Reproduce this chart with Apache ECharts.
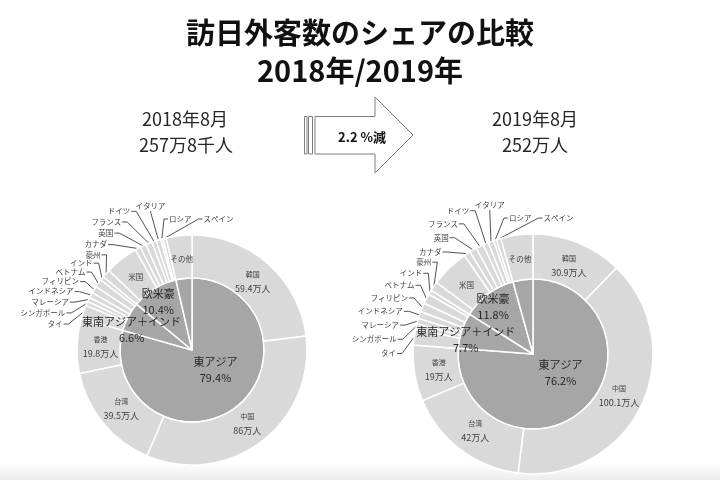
<!DOCTYPE html>
<html><head><meta charset="utf-8">
<script src="https://cdn.jsdelivr.net/npm/echarts@6/dist/echarts.min.js"></script>
<style>html,body{margin:0;padding:0;background:#fff}#c{width:720px;height:480px}</style>
</head><body><div id="c"></div>
<script>
const outerNames = ['韓国','中国','台湾','香港','タイ','シンガポール','マレーシア','インドネシア','フィリピン','ベトナム','インド','豪州','米国','カナダ','英国','フランス','ドイツ','イタリア','ロシア','スペイン','その他'];
const outer2018 = [59.4,86,39.5,19.8,5.0,1.5,1.6,2.0,2.5,2.9,1.5,3.0,12.0,2.0,2.2,2.3,1.6,1.7,0.8,1.2,9.3];
const outer2019 = [30.9,100.1,42,19,5.5,1.7,1.9,2.4,3.0,3.4,1.5,3.2,13.0,2.2,2.5,2.6,1.8,1.9,1.0,1.5,10.9];
const innerNames = ['東アジア','東南アジア＋インド','欧米豪','その他'];
const inner2018 = [79.4,6.6,10.4,3.6];
const inner2019 = [76.2,7.7,11.8,4.3];
const titleLines = ['訪日外客数のシェアの比較','2018年/2019年'];
const leftHead = ['2018年8月','257万8千人'];
const rightHead = ['2019年8月','252万人'];
const changeText = '2.2 %減';

const FONT = '"Noto Sans CJK JP", "Noto Sans", sans-serif';
const OUTER_C = '#d9d9d9', INNER_C = '#a6a6a6', TXT = '#404040';
const nameOnlyInside = ['米国','その他'];
const SMALL_FS = 7.5;

function kind(i){
  if(i<4) return 'value';
  if(nameOnlyInside.includes(outerNames[i])) return 'name';
  return 'out';
}
function outerData(vals){
  return vals.map((v,i)=>{
    const k = kind(i);
    const d = {name:outerNames[i], value:v};
    if(k==='value'){
      d.label = {position:'inside', formatter:'{n|{b}}\n{v|{c}万人}'};
      d.labelLine = {show:false};
    } else if(k==='name'){
      d.label = {position:'inside', formatter:'{m|{b}}'};
      d.labelLine = {show:false};
    } else {
      d.label = {position:'outside', formatter:'{o|{b}}'};
      d.labelLine = {show:true};
    }
    return d;
  });
}
function innerData(vals){
  return vals.map((v,i)=>({name:innerNames[i], value:v,
    label:{show:i<3, position:'inside', formatter:'{b}\n'+v.toFixed(1)+'%'}}));
}
// spread the small outside labels around the upper-left of the ring
function outerLayout(cx, cy, R, vals){
  const total = vals.reduce((a,b)=>a+b,0);
  const mids = []; let acc = 0;
  vals.forEach(v=>{ mids.push((acc+v/2)/total*360); acc+=v; });
  const outIdx = vals.map((v,i)=>i).filter(i=>kind(i)==='out');
  const n = outIdx.length, nTop = 3, nSide = n - nTop;
  const thA = mids[outIdx[0]] - 8, thEnd = 336, step = (thEnd - thA)/(nSide-1);
  const rad = d => d*Math.PI/180;
  return function(p){
    const k = outIdx.indexOf(p.dataIndex);
    if(k<0){
      // inside labels of the ring: pull slightly toward the centre
      const r = p.labelRect;
      const mx = r.x + r.width/2, my = r.y + r.height/2;
      return {dx:-0.05*(mx-cx), dy:-0.05*(my-cy)};
    }
    const tm = rad(mids[p.dataIndex]);
    const p0 = [cx + R*Math.sin(tm), cy - R*Math.cos(tm)];
    if(k<nSide){
      const th = thA + k*step;
      const r = R + 17 + 1.1*Math.max(0, th-318);
      const X = cx + r*Math.sin(rad(th)), Y = cy - r*Math.cos(rad(th));
      return {x:X, y:Y, align:'right', verticalAlign:'middle',
        labelLinePoints:[p0,[X+6,Y],[X+1,Y]]};
    }
    const j = k - nSide;
    if(j===0){
      const X = cx - 0.36*R, Y = cy - R - 29;
      return {x:X, y:Y, align:'center', verticalAlign:'middle',
        labelLinePoints:[p0,[X,Y+6],[X,Y+5]]};
    }
    let X = cx - 0.2*R;
    for(let q=nSide+1;q<k;q++) X += outerNames[outIdx[q]].length*SMALL_FS + 12;
    const Y = cy - R - 16;
    return {x:X, y:Y, align:'left', verticalAlign:'middle',
      labelLinePoints:[p0,[X-5,Y],[X-1,Y]]};
  };
}
function innerLayout(cx, cy){
  return function(p){
    const r = p.labelRect;
    const mx = r.x + r.width/2, my = r.y + r.height/2;
    let fx = 1.65, fy = 1.45;
    if(p.dataIndex===0){ fx = 1.0; fy = 0.65; }
    if(p.dataIndex===1){ fx = 1.75; fy = 1.1; }
    return {dx:(fx-1)*(mx-cx), dy:(fy-1)*(my-cy)};
  };
}
function pies(center, rIn, rOut, outerVals, innerVals){
  return [{
    type:'pie', center:center, radius:[0,rIn], startAngle:90, clockwise:true,
    avoidLabelOverlap:false,
    itemStyle:{color:INNER_C, borderColor:'#fff', borderWidth:1.5},
    label:{color:'#262626', fontSize:11, lineHeight:16, fontFamily:FONT, overflow:'none'},
    labelLine:{show:false}, silent:true, animation:false,
    labelLayout: innerLayout(center[0], center[1]),
    data: innerData(innerVals)
  },{
    type:'pie', center:center, radius:[rIn,rOut], startAngle:90, clockwise:true,
    itemStyle:{color:OUTER_C, borderColor:'#fff', borderWidth:1.5},
    avoidLabelOverlap:false,
    label:{color:TXT, fontFamily:FONT, overflow:'none', rich:{
      n:{fontSize:7, color:TXT, lineHeight:14, fontFamily:FONT},
      v:{fontSize:9, color:TXT, lineHeight:14, fontFamily:FONT},
      m:{fontSize:7.5, color:TXT, lineHeight:10, fontFamily:FONT},
      o:{fontSize:SMALL_FS, color:TXT, fontFamily:FONT, lineHeight:9}
    }},
    labelLine:{length:10, length2:6, lineStyle:{color:'#404040', width:0.9}},
    labelLayout: outerLayout(center[0], center[1], rOut, outerVals),
    silent:true, animation:false,
    data: outerData(outerVals)
  }];
}
const chart = echarts.init(document.getElementById('c'));
const headStyle = {fontSize:18, fontFamily:FONT, fill:'#262626', textAlign:'center', textVerticalAlign:'middle'};
chart.setOption({
  backgroundColor:'#fff',
  title:[
    {text:titleLines[0], left:'center', top:13, textStyle:{fontSize:29, fontWeight:'bold', color:'#111', fontFamily:FONT}},
    {text:titleLines[1], left:'center', top:51, textStyle:{fontSize:29, fontWeight:'bold', color:'#111', fontFamily:FONT}}
  ],
  graphic:[
    {type:'rect', shape:{x:0,y:462,width:720,height:18}, style:{fill:new echarts.graphic.LinearGradient(0,0,0,1,[{offset:0,color:'rgba(240,240,240,0)'},{offset:1,color:'#ececec'}])}, silent:true},
    {type:'text', style:Object.assign({x:185,y:119,text:leftHead[0]},headStyle)},
    {type:'text', style:Object.assign({x:186,y:145,text:leftHead[1]},headStyle)},
    {type:'text', style:Object.assign({x:535,y:119,text:rightHead[0]},headStyle)},
    {type:'text', style:Object.assign({x:535,y:145,text:rightHead[1]},headStyle)},
    {type:'rect', shape:{x:304.5,y:116.5,width:2.5,height:37.5}, style:{fill:'#fff',stroke:'#7f7f7f',lineWidth:1}},
    {type:'rect', shape:{x:308.5,y:116.5,width:4,height:37.5}, style:{fill:'#fff',stroke:'#7f7f7f',lineWidth:1}},
    {type:'polygon', shape:{points:[[315,116.5],[375,116.5],[375,97],[413,135],[375,173],[375,154],[315,154]]}, style:{fill:'#fff',stroke:'#7f7f7f',lineWidth:1}},
    {type:'text', style:{x:362,y:137,text:changeText,fontSize:13,fontWeight:'bold',fontFamily:FONT,fill:'#111',textAlign:'center',textVerticalAlign:'middle'}}
  ],
  series:[].concat(
    pies([192,350],72,115,outer2018,inner2018),
    pies([533,354],75,120,outer2019,inner2019)
  )
});
</script></body></html>
